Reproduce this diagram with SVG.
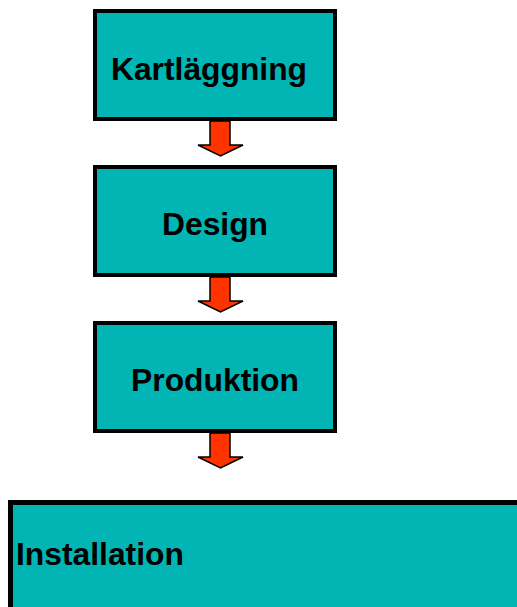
<svg xmlns="http://www.w3.org/2000/svg" width="517" height="607" viewBox="0 0 517 607">
<style>
.box{fill:#00B5B3;stroke:#000;stroke-width:4}
.lbl{font-family:"Liberation Sans",Arial,sans-serif;font-weight:bold;font-size:31.8px;fill:#000}
.arr{fill:#FF3300;stroke:#000;stroke-width:1.5;stroke-linejoin:miter}
</style>
<rect width="517" height="607" fill="#fff"/>
<g id="connectors">
<path class="arr" d="M210,121 L230,121 L230,145 L243,145 L220.5,156 L198,145 L210,145 Z"/>
<path class="arr" d="M210,277 L230,277 L230,301 L243,301 L220.5,312 L198,301 L210,301 Z"/>
<path class="arr" d="M210,433 L230,433 L230,457 L243,457 L220.5,468 L198,457 L210,457 Z"/>
</g>
<g id="kartlaggning">
<rect class="box" x="95" y="11" width="240" height="108"/>
<text class="lbl" x="209" y="80" text-anchor="middle">Kartläggning</text>
</g>
<g id="design">
<rect class="box" x="95" y="167" width="240" height="108"/>
<text class="lbl" x="215" y="235" text-anchor="middle">Design</text>
</g>
<g id="produktion">
<rect class="box" x="95" y="323" width="240" height="108"/>
<text class="lbl" x="215" y="391" text-anchor="middle">Produktion</text>
</g>
<g id="installation">
<rect class="box" x="10.5" y="502.5" width="520" height="120" style="stroke-width:5"/>
<text class="lbl" x="16" y="565">Installation</text>
</g>
</svg>
